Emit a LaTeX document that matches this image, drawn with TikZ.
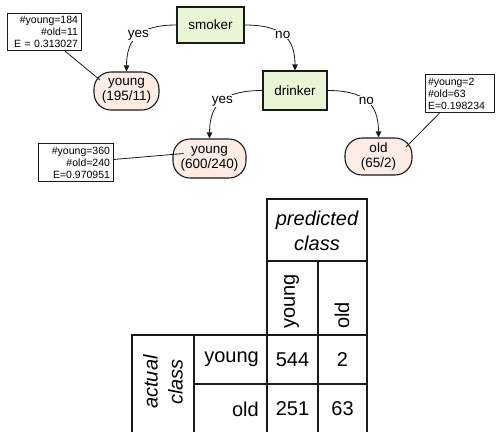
\documentclass[tikz,border=0pt]{standalone}
\usepackage{fontspec}
\setmainfont{Liberation Sans}
\usetikzlibrary{calc,arrows.meta}
\definecolor{ink}{HTML}{1A1A1A}
\definecolor{testbg}{HTML}{E8F6D6}
\definecolor{leafbg}{HTML}{FCECE3}
\tikzset{
  test/.style={draw=ink, fill=testbg, line width=1.1pt, inner sep=0pt, font=\fontsize{13.5}{15}\selectfont},
  leaf/.style={draw=ink, fill=leafbg, line width=1.1pt, rounded corners=17pt, inner sep=0pt, align=center, font=\fontsize{13.5}{15}\selectfont},
  info/.style={draw=ink, line width=0.8pt, inner sep=3pt, minimum height=37pt, font=\fontsize{10.5}{12}\selectfont},
  edge/.style={draw=ink, line width=0.8pt, looseness=1.3, -{Triangle[length=6pt,width=5.5pt]}},
  pin/.style={draw=ink, line width=0.8pt},
  lbl/.style={fill=white, inner sep=1pt, font=\fontsize{13.5}{15}\selectfont},
  grid/.style={draw=ink, line width=1.2pt},
  cell/.style={inner sep=0pt, font=\fontsize{20}{25}\selectfont},
  head/.style={inner sep=0pt, align=center, font=\fontsize{20}{25}\selectfont\itshape},
}

\begin{document}
\begin{tikzpicture}[x=1pt, y=1pt]
  \useasboundingbox (0,0) rectangle (497,-432);
  % tree
  \node[test, minimum width=67pt, minimum height=36pt] (smoker) at (210.5,-25) {smoker};
  \node[test, minimum width=64pt, minimum height=39pt] (drinker) at (295,-90.5) {drinker};
  \node[leaf, minimum width=65pt, minimum height=38pt] (young1) at (126.5,-91) {young\\(195/11)};
  \node[leaf, minimum width=73pt, minimum height=39pt] (young2) at (209.5,-158.5) {young\\(600/240)};
  \node[leaf, minimum width=67pt, minimum height=37pt] (old1) at (378.5,-156.5) {old\\(65/2)};
  \draw[edge] (smoker.west) to[out=180, in=90] node[lbl] {yes} (young1.north);
  \draw[edge] (smoker.east) to[out=0, in=90] node[lbl] {no} (drinker.north);
  \draw[edge] (drinker.west) to[out=180, in=90] node[lbl] {yes} (young2.north);
  \draw[edge] (drinker.east) to[out=0, in=90] node[lbl] {no} (old1.north);
  % counts
  \node[info, text width=68pt, align=right] (info1) at (44,-32) {\#young=184\\\#old=11\\E = 0.313027};
  \node[info, text width=69pt, align=right] (info2) at (75.5,-162.5) {\#young=360\\\#old=240\\E=0.970951};
  \node[info, text width=63pt, align=left] (info3) at (459.5,-93.5) {\#young=2\\\#old=63\\E=0.198234};
  \draw[pin] ([xshift=21pt]info1.south) -- ([shift={(-26.5pt,11pt)}]young1.center);
  \draw[pin] ([yshift=3pt]info2.east) -- ([shift={(-26pt,5pt)}]young2.center);
  \draw[pin] ([xshift=-19.5pt]info3.south) -- ([shift={(27.5pt,9.5pt)}]old1.center);
  % confusion matrix
  \draw[grid] (267,-432) -- (267,-199) -- (367,-199) -- (367,-432);
  \draw[grid] (267,-261) -- (367,-261);
  \draw[grid] (318,-261) -- (318,-432);
  \draw[grid] (132,-432) -- (132,-335) -- (367,-335);
  \draw[grid] (194,-335) -- (194,-432);
  \draw[grid] (194,-384) -- (367,-384);
  \node[head] (pred) at (317,-230.5) {predicted\\class};
  \node[cell, rotate=90, anchor=west] (colyoung) at (291.5,-329) {young};
  \node[cell, rotate=90, anchor=west] (colold) at (342,-329) {old};
  \node[head, rotate=90] (actual) at (163,-382) {actual\\class};
  \node[cell, anchor=east] (rowyoung) at (259,-359.5) {young};
  \node[cell, anchor=east] (rowold) at (259,-409) {old};
  \node[cell] (n11) at (292.5,-359.5) {544};
  \node[cell] (n12) at (342.5,-359.5) {2};
  \node[cell] (n21) at (292.5,-409) {251};
  \node[cell] (n22) at (342.5,-409) {63};
\end{tikzpicture}
\end{document}
